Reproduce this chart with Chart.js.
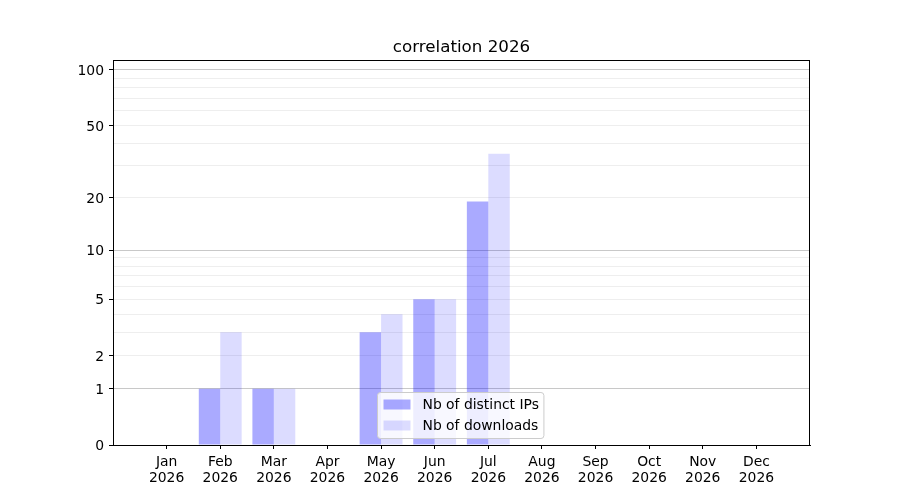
<!DOCTYPE html>
<html>
<head>
<meta charset="utf-8">
<script src="https://cdn.jsdelivr.net/npm/chart.js@4.4.1/dist/chart.umd.min.js"></script>
<style>
  html, body { margin: 0; padding: 0; background: #ffffff; }
  #wrap { width: 900px; height: 500px; }
</style>
</head>
<body>
<div id="wrap"><canvas id="c" width="900" height="500"></canvas></div>
<script>
// ---- data ----
const months = ['Jan','Feb','Mar','Apr','May','Jun','Jul','Aug','Sep','Oct','Nov','Dec'];
const year = '2026';
const distinctIPs = [0, 1, 1, 0, 3, 5, 19, 0, 0, 0, 0, 0];
const downloads   = [0, 3, 1, 0, 4, 5, 35, 0, 0, 0, 0, 0];
const yTickLabels = [0, 1, 2, 5, 10, 20, 50, 100];
const yMajorGrid  = [1, 10, 100];
const yMinorGrid  = [2, 3, 4, 5, 6, 7, 8, 9, 20, 30, 40, 50, 60, 70, 80, 90];
const yTopValue   = 113;
const titleText   = 'correlation 2026';
const seriesNames = ['Nb of distinct IPs', 'Nb of downloads'];

// ---- helpers ----
const FONT = "'DejaVu Sans', 'Liberation Sans', sans-serif";
const TICK_SIZE = 13.9;
const fwd = v => Math.log10(1 + v);
const inv = t => Math.round(Math.pow(10, t) - 1);
const pad = arr => [null].concat(arr.map(fwd), [null]);
const labels = [''].concat(months.map(m => [m, year]), ['']);
const colors = ['rgba(0,0,255,0.333)', 'rgba(0,0,255,0.137)'];

const allGrid = Array.from(new Set([0].concat(yMajorGrid, yMinorGrid))).sort((a, b) => a - b);

const framePlugin = {
  id: 'frame',
  afterDatasetsDraw(chart) {
    const { ctx, chartArea: a } = chart;
    ctx.save();
    ctx.strokeStyle = '#000000';
    ctx.lineWidth = 1;
    ctx.strokeRect(Math.round(a.left) + 0.5, Math.round(a.top) + 0.5,
                   Math.round(a.right - a.left) - 1, Math.round(a.bottom - a.top));
    ctx.restore();
  }
};

const legendPlugin = {
  id: 'innerLegend',
  afterDraw(chart) {
    const { ctx, chartArea: a } = chart;
    ctx.save();
    ctx.font = TICK_SIZE + 'px ' + FONT;
    const tw = Math.max(...chart.data.datasets.map(d => ctx.measureText(d.label).width));
    const handleW = 27, handleH = 10, padX = 6, gap = 12, rowH = 21;
    const boxW = padX + handleW + gap + tw + 5;
    const boxH = 46;
    const cx = (a.left + a.right) / 2;
    const x0 = Math.round(cx - boxW / 2) - 0.5;
    const y0 = Math.round(a.bottom - 7 - boxH) + 0.5;
    ctx.beginPath();
    const r = 3;
    ctx.moveTo(x0 + r, y0);
    ctx.lineTo(x0 + boxW - r, y0);
    ctx.quadraticCurveTo(x0 + boxW, y0, x0 + boxW, y0 + r);
    ctx.lineTo(x0 + boxW, y0 + boxH - r);
    ctx.quadraticCurveTo(x0 + boxW, y0 + boxH, x0 + boxW - r, y0 + boxH);
    ctx.lineTo(x0 + r, y0 + boxH);
    ctx.quadraticCurveTo(x0, y0 + boxH, x0, y0 + boxH - r);
    ctx.lineTo(x0, y0 + r);
    ctx.quadraticCurveTo(x0, y0, x0 + r, y0);
    ctx.closePath();
    ctx.fillStyle = 'rgba(255,255,255,0.8)';
    ctx.fill();
    ctx.strokeStyle = '#cccccc';
    ctx.lineWidth = 1;
    ctx.stroke();
    chart.data.datasets.forEach((d, i) => {
      const cy = y0 + 12 + i * rowH;
      ctx.fillStyle = d.backgroundColor;
      ctx.fillRect(x0 + padX, cy - handleH / 2, handleW, handleH);
      ctx.fillStyle = '#000000';
      ctx.textBaseline = 'middle';
      ctx.textAlign = 'left';
      ctx.fillText(d.label, x0 + padX + handleW + gap, cy + 1);
    });
    ctx.restore();
  }
};

new Chart(document.getElementById('c'), {
  type: 'bar',
  data: {
    labels: labels,
    datasets: [
      { label: seriesNames[0], data: pad(distinctIPs), backgroundColor: colors[0], borderWidth: 0 },
      { label: seriesNames[1], data: pad(downloads), backgroundColor: colors[1], borderWidth: 0 }
    ]
  },
  options: {
    responsive: false,
    animation: false,
    devicePixelRatio: 1,
    layout: { padding: { left: 23, right: 0, top: 0, bottom: 0 } },
    datasets: { bar: { categoryPercentage: 0.8, barPercentage: 1.0 } },
    plugins: {
      legend: { display: false },
      tooltip: { enabled: false },
      title: {
        display: true,
        text: titleText,
        color: '#000000',
        font: { family: FONT, size: 16.7, weight: 'normal', lineHeight: 1.2 },
        padding: { top: 38, bottom: 2 }
      }
    },
    scales: {
      x: {
        type: 'category',
        offset: false,
        grid: {
          display: true,
          offset: false,
          drawOnChartArea: false,
          drawTicks: true,
          tickLength: 4,
          tickColor: ctx => (ctx.index === 0 || ctx.index === labels.length - 1) ? 'rgba(0,0,0,0)' : '#000000'
        },
        border: { display: true, color: '#000000', width: 1 },
        ticks: {
          autoSkip: false,
          maxRotation: 0,
          minRotation: 0,
          color: '#000000',
          padding: 5,
          font: { family: FONT, size: TICK_SIZE, lineHeight: 1.15 }
        },
        afterFit: s => { s.height = 55; }
      },
      y: {
        type: 'linear',
        position: 'left',
        min: 0,
        max: fwd(yTopValue),
        afterBuildTicks: s => { s.ticks = allGrid.map(v => ({ value: fwd(v) })); },
        grid: {
          display: true,
          drawTicks: true,
          tickLength: 4,
          lineWidth: 1,
          color: ctx => {
            const v = ctx.tick ? inv(ctx.tick.value) : -1;
            if (v === 0) return 'rgba(0,0,0,0)';
            if (yMajorGrid.includes(v)) return '#c8c8c8';
            return '#eeeeee';
          },
          tickColor: ctx => {
            const v = ctx.tick ? inv(ctx.tick.value) : -1;
            return yTickLabels.includes(v) ? '#000000' : 'rgba(0,0,0,0)';
          }
        },
        border: { display: true, color: '#000000', width: 1 },
        ticks: {
          autoSkip: false,
          color: '#000000',
          padding: 5,
          labelOffset: 1.5,
          font: { family: FONT, size: TICK_SIZE },
          callback: function (value) {
            const v = inv(value);
            return yTickLabels.includes(v) ? String(v) : '';
          }
        },
        afterFit: s => { s.width = 90; }
      },
      yRight: {
        type: 'linear',
        position: 'right',
        display: true,
        min: 0,
        max: 1,
        grid: { display: false, drawOnChartArea: false, drawTicks: false },
        border: { display: false },
        ticks: { display: false },
        afterFit: s => { s.width = 90; }
      }
    }
  },
  plugins: [framePlugin, legendPlugin]
});
</script>
</body>
</html>
